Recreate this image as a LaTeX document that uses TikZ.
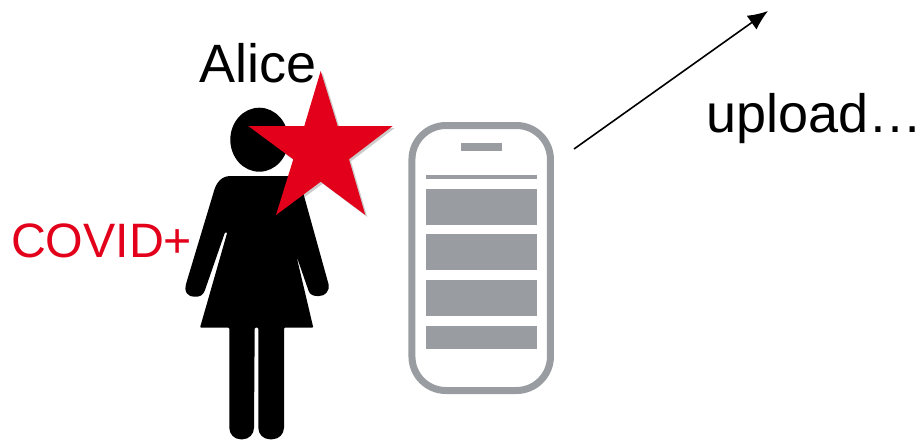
\documentclass[tikz,border=0pt]{standalone}
\usepackage{fontspec}
\setmainfont{Liberation Sans}
\usetikzlibrary{arrows.meta,positioning,shapes.geometric,shadows}
\definecolor{alertred}{RGB}{226,0,26}
\definecolor{phonegray}{RGB}{153,156,161}
\tikzset{
  labeltext/.style={anchor=base west,inner sep=0pt,outer sep=0pt,font=\fontsize{54}{60}\selectfont},
  phonebody/.style={draw=phonegray,line width=7pt,rounded corners=34pt,minimum width=138.5pt,minimum height=265pt,inner sep=0pt},
  phonebar/.style={fill=phonegray,minimum width=111.6pt,inner sep=0pt,outer sep=0pt},
  alertstar/.style={fill=alertred,drop shadow={shadow xshift=2pt,shadow yshift=-2pt,opacity=0.2,fill=black}},
  uploadflow/.style={-{Latex[length=20pt,width=17pt]},line width=1.6pt,draw=black}
}
\begin{document}
\begin{tikzpicture}[x=1pt,y=-1pt]
  \useasboundingbox (0,0) rectangle (923,440);
  % person
  \node[ellipse,fill=black,minimum width=58pt,minimum height=64pt,inner sep=0pt] (head) at (259.3,139.7) {};
  \fill[black,rounded corners=1pt] (231.7,176)
    .. controls (221,176) and (216,183) .. (213.3,193.3)
    -- (186.7,281.7) .. controls (183,293) and (189,296.7) .. (195,296.7)
    .. controls (200,296.7) and (203,295) .. (205,290)
    -- (225,232.3) -- (227.3,232.3) -- (200,327.7) -- (229.3,327.7) -- (229.3,426.7)
    .. controls (229.3,434) and (234,439.3) .. (241.7,439.3)
    .. controls (249,439.3) and (254,434) .. (254,426.7)
    -- (254.7,327.7) -- (258.3,327.7) -- (258.3,426.7)
    .. controls (258.3,434) and (263,439.3) .. (271,439.3)
    .. controls (279,439.3) and (284,434) .. (284,426.7)
    -- (284,327.7) -- (313.3,327.7) -- (290.7,231.7) -- (288.3,232.3) -- (308.3,290)
    .. controls (310,295) and (314,296) .. (318.3,296)
    .. controls (325,296) and (330,291) .. (328.3,283.3)
    -- (303.3,193.3) .. controls (300,183) and (295,176) .. (285,176) -- cycle;
  \fill[alertstar] (320.7,71) -- (337.7,126) -- (392.7,126) -- (349,159.3) -- (365.3,215)
    -- (320.7,181.7) -- (276,215) -- (293.3,159.3) -- (248.3,126) -- (304.3,126) -- cycle;
  % labels
  \node[labeltext] (alice) at (199.5,82) {Alice};
  \node[labeltext,text=alertred,font=\fontsize{48.3}{56}\selectfont] (covid) at (11,257) {COVID+};
  \node[labeltext] (upload) at (706,132) {upload…};
  % phone
  \node[phonebody] (phone) at (481.2,258) {};
  \node[phonebar,minimum width=40.4pt,minimum height=8pt] (speaker) at (481.5,147.3) {};
  \node[phonebar,minimum height=4.6pt] (rule) at (481.5,177) {};
  \node[phonebar,minimum height=36pt] (barone) at (481.5,207) {};
  \node[phonebar,minimum height=36pt] (bartwo) at (481.5,252.3) {};
  \node[phonebar,minimum height=36pt] (barthree) at (481.5,298.2) {};
  \node[phonebar,minimum height=22.7pt] (barfour) at (481.5,337.3) {};
  % arrow
  \coordinate (upstart) at (574,149);
  \coordinate (upend) at (768,11);
  \draw[uploadflow] (upstart) -- (upend);
\end{tikzpicture}
\end{document}
